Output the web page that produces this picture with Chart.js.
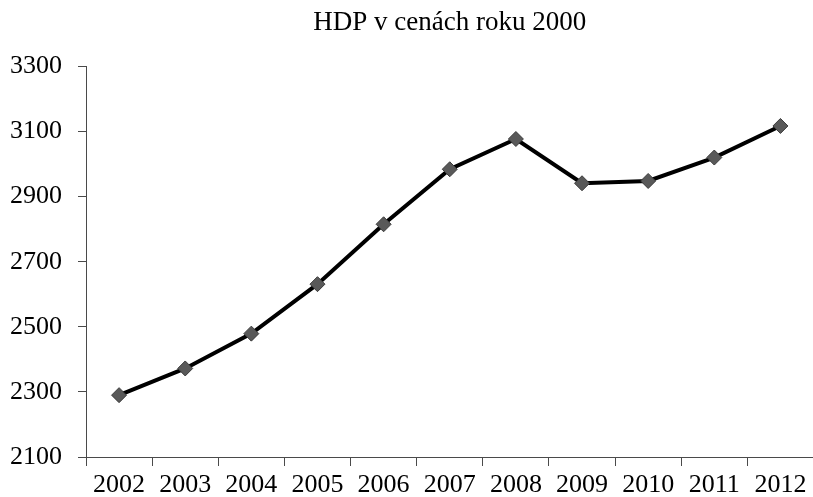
<!DOCTYPE html>
<html>
<head>
<meta charset="utf-8">
<script src="https://cdn.jsdelivr.net/npm/chart.js@4.4.1/dist/chart.umd.min.js"></script>
<style>
    html, body { margin: 0; padding: 0; overflow: hidden; background: #fff; }
    #wrap { width: 822px; height: 497px; position: relative; }
</style>
</head>
<body>
<div id="wrap"><canvas id="hdpChart"></canvas></div>
<script>
// data
const years = ['2002', '2003', '2004', '2005', '2006', '2007', '2008', '2009', '2010', '2011', '2012'];
const hdp = [2290, 2372, 2479, 2631, 2815, 2984, 3077, 2941, 2948, 3020, 3117];
const yTicks = [2100, 2300, 2500, 2700, 2900, 3100, 3300];

const serif = "'Liberation Serif', 'Times New Roman', serif";
const axisColor = '#4a4a4a';

const ctx = document.getElementById('hdpChart').getContext('2d');
new Chart(ctx, {
    type: 'line',
    data: {
        labels: years,
        datasets: [{
            label: 'HDP',
            data: hdp,
            borderColor: '#000000',
            borderWidth: 4,
            tension: 0,
            pointStyle: 'rectRot',
            pointRadius: 7.5,
            pointBackgroundColor: '#595959',
            pointBorderColor: '#3a3a3a',
            pointBorderWidth: 1
        }]
    },
    options: {
        responsive: true,
        maintainAspectRatio: false,
        animation: false,
        layout: { padding: { top: 0, right: 0, bottom: 0, left: 0 } },
        plugins: {
            legend: { display: false },
            tooltip: { enabled: false },
            title: {
                display: true,
                text: 'HDP v cenách roku 2000',
                fullSize: false,
                color: '#000',
                font: { family: serif, size: 27, weight: 'normal' },
                padding: { top: 7, bottom: 27 }
            }
        },
        scales: {
            x: {
                offset: true,
                grid: { offset: true, drawOnChartArea: false, tickLength: 9, color: axisColor },
                border: { color: axisColor, width: 1 },
                ticks: { color: '#000', font: { family: serif, size: 26 }, padding: 4, maxRotation: 0, autoSkip: false },
                afterFit: function(scale) { scale.height = 40; }
            },
            y: {
                min: yTicks[0],
                max: yTicks[yTicks.length - 1],
                afterBuildTicks: function(scale) { scale.ticks = yTicks.map(v => ({ value: v })); },
                grid: { drawOnChartArea: false, tickLength: 8, color: axisColor },
                border: { color: axisColor, width: 1 },
                ticks: {
                    color: '#000',
                    font: { family: serif, size: 26 },
                    padding: 16,
                    callback: function(value) { return String(value); }
                },
                afterFit: function(scale) { scale.width = 86; }
            }
        }
    }
});
</script>
</body>
</html>
